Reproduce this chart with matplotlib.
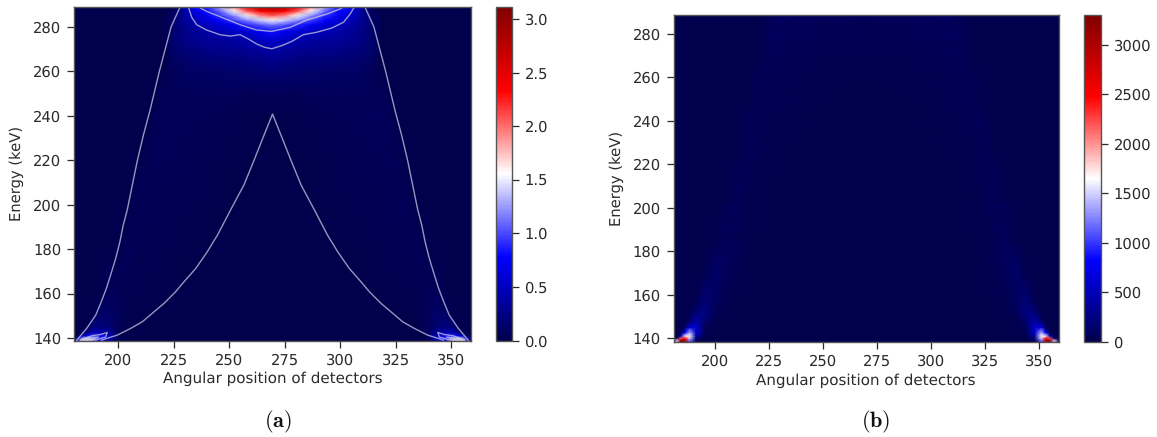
#!/usr/bin/env python3
# -*- coding: utf-8 -*-
import numpy as np
import matplotlib
matplotlib.use('Agg')
import matplotlib.pyplot as plt

plt.rcParams['mathtext.fontset'] = 'cm'
plt.rcParams['text.hinting'] = 'none'

W, H = 1157, 437

# panel (a), left half of the map, the right half is its mirror around 269.5
angles_a = [180, 182, 184, 186, 188, 191, 195, 200, 205, 210, 215, 220, 225, 230, 235, 240, 246, 252, 258, 264, 269.5]
energy_a = [139, 140, 141, 142.5, 145, 150, 160, 180, 200, 220, 240, 250, 260, 265, 270, 274, 278, 281, 283, 285, 287, 289]
map_a = [
    [0, 1.0, 1.6, 1.7, 1.4, .8, .45, .02, 0, 0, 0, 0, 0, 0, 0, 0, 0, 0, 0, 0, 0],
    [0, .6, 1.3, 1.5, 1.2, .9, .6, .02, 0, 0, 0, 0, 0, 0, 0, 0, 0, 0, 0, 0, 0],
    [0, .05, .5, .8, .9, .85, .55, .03, 0, 0, 0, 0, 0, 0, 0, 0, 0, 0, 0, 0, 0],
    [0, 0, .05, .25, .42, .45, .38, .05, 0, 0, 0, 0, 0, 0, 0, 0, 0, 0, 0, 0, 0],
    [0, 0, 0, .05, .2, .22, .18, .05, .01, 0, 0, 0, 0, 0, 0, 0, 0, 0, 0, 0, 0],
    [0, 0, 0, 0, 0, .12, .14, .07, .02, .01, 0, 0, 0, 0, 0, 0, 0, 0, 0, 0, 0],
    [0, 0, 0, 0, 0, 0, .08, .06, .03, .02, .015, .01, 0, 0, 0, 0, 0, 0, 0, 0, 0],
    [0, 0, 0, 0, 0, 0, 0, .03, .05, .035, .03, .025, .02, .012, .008, .004, 0, 0, 0, 0, 0],
    [0, 0, 0, 0, 0, 0, 0, 0, .02, .05, .04, .035, .03, .025, .02, .015, .008, 0, 0, 0, 0],
    [0, 0, 0, 0, 0, 0, 0, 0, 0, .02, .05, .05, .045, .04, .035, .03, .02, .012, .006, 0, 0],
    [0, 0, 0, 0, 0, 0, 0, 0, 0, 0, .03, .07, .07, .065, .06, .05, .04, .03, .02, .012, .005],
    [0, 0, 0, 0, 0, 0, 0, 0, 0, 0, .005, .05, .06, .07, .07, .07, .07, .07, .06, .05, .05],
    [0, 0, 0, 0, 0, 0, 0, 0, 0, 0, 0, .02, .07, .1, .11, .12, .13, .14, .15, .17, .19],
    [0, 0, 0, 0, 0, 0, 0, 0, 0, 0, 0, .01, .1, .14, .16, .18, .19, .2, .22, .25, .28],
    [0, 0, 0, 0, 0, 0, 0, 0, 0, 0, 0, 0, .15, .2, .24, .26, .28, .3, .32, .36, .4],
    [0, 0, 0, 0, 0, 0, 0, 0, 0, 0, 0, 0, .16, .25, .3, .33, .35, .37, .42, .52, .58],
    [0, 0, 0, 0, 0, 0, 0, 0, 0, 0, 0, 0, .15, .27, .34, .4, .47, .53, .6, .72, .82],
    [0, 0, 0, 0, 0, 0, 0, 0, 0, 0, 0, 0, .15, .3, .42, .5, .62, .75, .9, 1.05, 1.15],
    [0, 0, 0, 0, 0, 0, 0, 0, 0, 0, 0, 0, .15, .33, .48, .62, .78, .98, 1.2, 1.42, 1.55],
    [0, 0, 0, 0, 0, 0, 0, 0, 0, 0, 0, 0, .12, .36, .55, .72, .92, 1.2, 1.55, 1.9, 2.05],
    [0, 0, 0, 0, 0, 0, 0, 0, 0, 0, 0, 0, .08, .38, .68, .8, 1.1, 1.55, 2.05, 2.35, 2.5],
    [0, 0, 0, 0, 0, 0, 0, 0, 0, 0, 0, 0, .02, .38, .82, .92, 1.3, 1.9, 2.5, 2.8, 2.9],
]

# contour lines of panel (a), left side
outer_angle = [181.2, 185.7, 189.8, 192.3, 194.6, 196.5, 198.8, 200.7, 202.2, 204, 206.3, 208.6, 211.3, 214.3, 218.5, 223.8, 227.9]
outer_energy = [139, 144.3, 150.3, 156.3, 162.3, 168.3, 175.8, 183.3, 190.8, 197.6, 208.8, 220, 231.3, 242.5, 260, 280, 289]
inner_angle = [192.4, 195, 199.5, 205.5, 210.8, 216.1, 220.6, 225.8, 229.6, 234.9, 240.1, 244.7, 250.6, 256.6, 261.2, 265.7, 269.5]
inner_energy = [139, 139.9, 141.3, 144.3, 147.3, 151.8, 155.6, 160.8, 165.3, 171.3, 178.8, 186.3, 197.6, 208.8, 220, 231.3, 240.7]
level1_angle = [231.6, 233.1, 235.3, 239.8, 245.9, 250.4, 254.9, 258.6, 262.4, 266.1, 269.2, 273.7, 278.2, 283.4, 289.4, 296.2, 301.5, 304.5, 306.3]
level1_energy = [288.7, 284.2, 280.9, 278.5, 276.4, 275.8, 276.4, 274.5, 272.2, 270.7, 270.1, 271.5, 273.4, 276.4, 277.5, 279.4, 282, 285.7, 288.7]
level2_angle = [236.5, 239.8, 247.4, 254.9, 262.4, 269.2, 277.4, 284.9, 294, 300, 301.5]
level2_energy = [288.7, 286.9, 283.9, 280.9, 278.5, 277.9, 279.7, 283, 285.7, 288, 289]
level3_angle = [245, 256, 269.5, 283, 294]
level3_energy = [289, 285.2, 282.5, 285.2, 289]
corner_angle = [183, 188, 192, 195, 194.2, 190, 183]
corner_energy = [139.2, 141, 141.6, 142.5, 140.4, 139.2, 139.2]
corner2_angle = [184, 188, 191, 188, 184]
corner2_energy = [139.3, 140.2, 140.4, 139.4, 139.3]

# panel (b), left half as well
angles_b = [180, 182, 184, 186, 188, 191, 195, 200, 205, 210, 215, 220, 225, 230, 235, 240, 255, 269.5]
energy_b = [138, 139, 140, 141, 142.5, 145, 148, 152, 156, 160, 170, 180, 184, 188, 192, 196, 200, 204, 208, 212,
            216, 220, 224, 228, 232, 236, 240, 244, 248, 252, 256, 260, 264, 268, 272, 276, 280, 284, 288, 289]
map_b = [
    [0, 2000, 3300, 3000, 1000, 0, 0, 0, 0, 0, 0, 0, 0, 0, 0, 0, 0, 0],
    [0, 1500, 3300, 3000, 1200, 100, 0, 0, 0, 0, 0, 0, 0, 0, 0, 0, 0, 0],
    [0, 100, 2200, 2500, 1500, 200, 0, 0, 0, 0, 0, 0, 0, 0, 0, 0, 0, 0],
    [0, 0, 500, 1700, 1700, 400, 10, 0, 0, 0, 0, 0, 0, 0, 0, 0, 0, 0],
    [0, 0, 0, 800, 1400, 600, 30, 0, 0, 0, 0, 0, 0, 0, 0, 0, 0, 0],
    [0, 0, 0, 100, 650, 600, 70, 5, 0, 0, 0, 0, 0, 0, 0, 0, 0, 0],
    [0, 0, 0, 0, 120, 400, 160, 20, 5, 0, 0, 0, 0, 0, 0, 0, 0, 0],
    [0, 0, 0, 0, 0, 180, 260, 50, 15, 5, 0, 0, 0, 0, 0, 0, 0, 0],
    [0, 0, 0, 0, 0, 40, 200, 80, 25, 8, 3, 0, 0, 0, 0, 0, 0, 0],
    [0, 0, 0, 0, 0, 0, 170, 100, 35, 14, 6, 3, 0, 0, 0, 0, 0, 0],
    [0, 0, 0, 0, 0, 0, 0, 130, 70, 30, 10, 6, 3, 0, 0, 0, 0, 0],
    [0, 0, 0, 0, 0, 0, 0, 70, 85, 40, 15, 8, 4, 2, 0, 0, 0, 0],
    [0, 0, 0, 0, 0, 0, 0, 0, 90, 50, 20, 12, 8, 4, 2, 0, 0, 0],
    [0, 0, 0, 0, 0, 0, 0, 0, 55, 36, 16, 8, 6, 2, 0, 0, 0, 0],
    [0, 0, 0, 0, 0, 0, 0, 0, 80, 60, 24, 14, 8, 6, 4, 0, 0, 0],
    [0, 0, 0, 0, 0, 0, 0, 0, 50, 40, 16, 10, 6, 4, 2, 0, 0, 0],
    [0, 0, 0, 0, 0, 0, 0, 0, 60, 70, 28, 16, 10, 8, 6, 2, 0, 0],
    [0, 0, 0, 0, 0, 0, 0, 0, 10, 50, 24, 12, 8, 6, 4, 2, 0, 0],
    [0, 0, 0, 0, 0, 0, 0, 0, 0, 76, 36, 18, 12, 10, 8, 4, 0, 0],
    [0, 0, 0, 0, 0, 0, 0, 0, 0, 48, 28, 14, 10, 8, 6, 4, 0, 0],
    [0, 0, 0, 0, 0, 0, 0, 0, 0, 60, 48, 22, 16, 12, 10, 6, 0, 0],
    [0, 0, 0, 0, 0, 0, 0, 0, 0, 28, 36, 18, 12, 10, 8, 6, 0, 0],
    [0, 0, 0, 0, 0, 0, 0, 0, 0, 12, 68, 30, 20, 16, 12, 8, 2, 0],
    [0, 0, 0, 0, 0, 0, 0, 0, 0, 0, 40, 22, 16, 12, 10, 6, 2, 0],
    [0, 0, 0, 0, 0, 0, 0, 0, 0, 0, 72, 36, 24, 20, 16, 10, 4, 2],
    [0, 0, 0, 0, 0, 0, 0, 0, 0, 0, 44, 26, 18, 14, 12, 8, 2, 2],
    [0, 0, 0, 0, 0, 0, 0, 0, 0, 0, 68, 44, 28, 24, 20, 14, 6, 2],
    [0, 0, 0, 0, 0, 0, 0, 0, 0, 0, 28, 30, 20, 18, 14, 10, 4, 2],
    [0, 0, 0, 0, 0, 0, 0, 0, 0, 0, 10, 60, 36, 30, 26, 18, 10, 4],
    [0, 0, 0, 0, 0, 0, 0, 0, 0, 0, 0, 40, 26, 22, 18, 14, 8, 4],
    [0, 0, 0, 0, 0, 0, 0, 0, 0, 0, 0, 64, 44, 38, 32, 26, 14, 8],
    [0, 0, 0, 0, 0, 0, 0, 0, 0, 0, 0, 40, 32, 28, 24, 20, 12, 8],
    [0, 0, 0, 0, 0, 0, 0, 0, 0, 0, 0, 36, 60, 52, 44, 36, 22, 16],
    [0, 0, 0, 0, 0, 0, 0, 0, 0, 0, 0, 0, 40, 36, 32, 28, 18, 14],
    [0, 0, 0, 0, 0, 0, 0, 0, 0, 0, 0, 0, 76, 68, 60, 50, 34, 28],
    [0, 0, 0, 0, 0, 0, 0, 0, 0, 0, 0, 0, 52, 48, 44, 40, 30, 24],
    [0, 0, 0, 0, 0, 0, 0, 0, 0, 0, 0, 0, 90, 84, 76, 68, 52, 44],
    [0, 0, 0, 0, 0, 0, 0, 0, 0, 0, 0, 0, 44, 60, 56, 52, 40, 34],
    [0, 0, 0, 0, 0, 0, 0, 0, 0, 0, 0, 0, 40, 110, 100, 90, 72, 60],
    [0, 0, 0, 0, 0, 0, 0, 0, 0, 0, 0, 0, 30, 100, 90, 80, 64, 56],
]

xticks = [200, 225, 250, 275, 300, 325, 350]
yticks = [140, 160, 180, 200, 220, 240, 260, 280]
cbar_ticks_a = [0, 0.5, 1.0, 1.5, 2.0, 2.5, 3.0]
cbar_ticks_b = [0, 500, 1000, 1500, 2000, 2500, 3000]

TEXT = '#2b2b2b'
FS = 10.6
MID = 269.5


def box(x0, x1, y0, y1):
    return [x0 / W, 1 - y1 / H, (x1 - x0) / W, (y1 - y0) / H]


def mirror_x(angles):
    a = np.array(angles, dtype=float)
    return np.concatenate([a, 2 * MID - a[-2::-1]])


def mirror_z(table):
    t = np.array(table, dtype=float)
    return np.hstack([t, t[:, -2::-1]])


def panel(fig, ax_box, cb_box, x, y, z, vmax, ticks, xlim, ylim, ylabel_x):
    ax = fig.add_axes(box(*ax_box))
    mesh = ax.pcolormesh(x, y, z, cmap='seismic', vmin=0, vmax=vmax, shading='gouraud')
    ax.set_facecolor(plt.get_cmap('seismic')(0.0))
    ax.set_xlim(*xlim)
    ax.set_ylim(*ylim)
    ax.set_xticks(xticks)
    ax.set_yticks(yticks)
    ax.tick_params(labelsize=FS, colors=TEXT, length=5, width=0.9, pad=4)
    ax.set_xlabel('Angular position of detectors', fontsize=10.9, color=TEXT, labelpad=3)
    ax.set_ylabel('Energy (keV)', fontsize=FS, color=TEXT)
    ax.yaxis.set_label_coords((ylabel_x - ax_box[0]) / (ax_box[1] - ax_box[0]), 0.5)
    for s in ax.spines.values():
        s.set_color('#555555')
        s.set_linewidth(1.0)

    cax = fig.add_axes(box(*cb_box))
    cb = fig.colorbar(mesh, cax=cax, ticks=ticks)
    cb.ax.tick_params(labelsize=FS, colors=TEXT, length=5, width=0.9, pad=4)
    cb.outline.set_edgecolor('#555555')
    cb.outline.set_linewidth(1.0)
    return ax


fig = plt.figure(figsize=(W / 100, H / 100), dpi=100)

ax_a = panel(fig, (74, 471, 6.7, 340.7), (496, 512, 6.7, 340.7), mirror_x(angles_a), energy_a, mirror_z(map_a),
             3.115, cbar_ticks_a, (180, 359), (138.8, 289), 24)

line_kw = dict(color='#c8c8e0', lw=1.0, alpha=0.75)
# the two big contours of the weak level
ax_a.plot(outer_angle, outer_energy, **line_kw)
ax_a.plot(2 * MID - np.array(outer_angle), outer_energy, **line_kw)
ax_a.plot(mirror_x(inner_angle), inner_energy + inner_energy[-2::-1], **line_kw)
# the contours near the top
ax_a.plot(level1_angle, level1_energy, **line_kw)
ax_a.plot(level2_angle, level2_energy, **line_kw)
ax_a.plot(level3_angle, level3_energy, **line_kw)
# small ones in the bottom corners
for ca, ce in [(corner_angle, corner_energy), (corner2_angle, corner2_energy)]:
    ax_a.plot(ca, ce, **line_kw)
    ax_a.plot(2 * MID - np.array(ca), ce, **line_kw)

panel(fig, (673.5, 1059, 15, 342), (1084, 1101, 15, 342), mirror_x(angles_b), energy_b, mirror_z(map_b),
      3303, cbar_ticks_b, (180.6, 359.2), (138.2, 288.7), 624)

fig.text(278 / W, 1 - 422 / H, r'$\mathbf{(a)}$', ha='center', va='center', fontsize=16, color='#111111')
fig.text(876 / W, 1 - 422 / H, r'$\mathbf{(b)}$', ha='center', va='center', fontsize=16, color='#111111')

fig.savefig('out.png', dpi=100)
